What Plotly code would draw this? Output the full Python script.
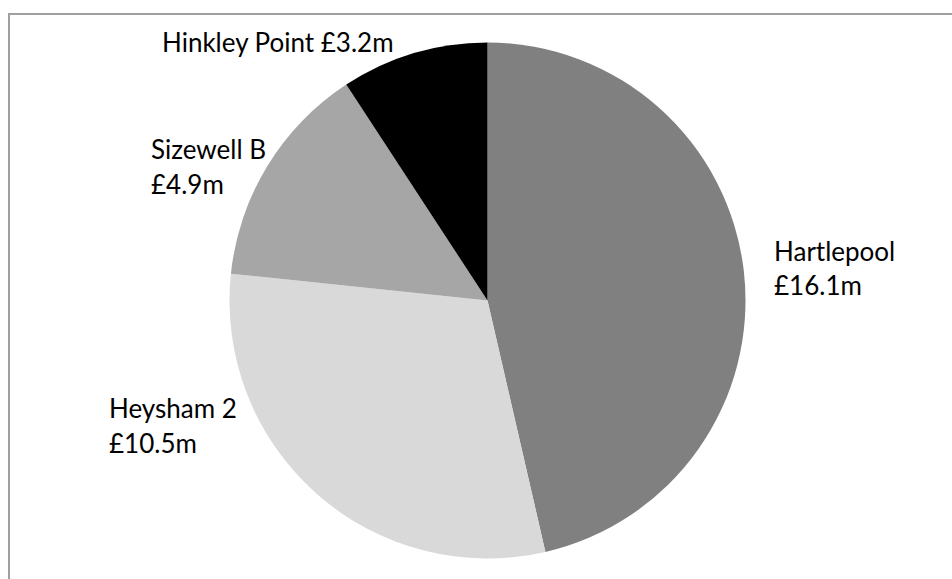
import plotly.graph_objects as go

# Plant names and their values (£ million), clockwise from 12 o'clock
plants = ["Hartlepool", "Heysham 2", "Sizewell B", "Hinkley Point"]
values_m = [16.1, 10.5, 4.9, 3.2]
colors = ["#808080", "#d9d9d9", "#a6a6a6", "#000000"]

W, H = 952, 579
FONT = "Lato"
FSIZE = 26


def px(x):
    return x / W


def py(y):
    return 1 - y / H


# pie geometry in pixels
cx, cy, r = 487.5, 300.5, 258

fig = go.Figure(
    go.Pie(
        labels=plants,
        values=values_m,
        sort=False,
        direction="clockwise",
        rotation=0,
        marker=dict(colors=colors, line=dict(width=0)),
        textinfo="none",
        hoverinfo="label+value",
        showlegend=False,
        domain=dict(x=[px(cx - r), px(cx + r)], y=[py(cy + r), py(cy - r)]),
    )
)


def money(v):
    return f"£{v}m"


# label layout: (left x, first baseline, second baseline or None -> single line)
label_pos = {
    "Hinkley Point": (160, 51, None),
    "Sizewell B": (149, 158, 193),
    "Heysham 2": (107, 417, 452),
    "Hartlepool": (772, 260, 294),
}

annotations = []
for name, v in zip(plants, values_m):
    x, b1, b2 = label_pos[name]
    lines = [(f"{name} {money(v)}", b1)] if b2 is None else [(name, b1), (money(v), b2)]
    for txt, base in lines:
        annotations.append(
            dict(
                text=txt,
                x=px(x),
                y=py(base - 0.36 * FSIZE),
                xref="paper",
                yref="paper",
                xanchor="left",
                yanchor="middle",
                showarrow=False,
                font=dict(family=FONT, size=FSIZE, color="#000000"),
            )
        )

# chart frame (continues past the right and bottom edges)
shapes = [
    dict(
        type="rect",
        xref="paper",
        yref="paper",
        x0=px(9),
        x1=px(W + 20),
        y0=py(14),
        y1=py(H + 20),
        line=dict(color="#a0a0a0", width=2),
        fillcolor="rgba(0,0,0,0)",
    )
]

fig.update_layout(
    width=W,
    height=H,
    margin=dict(l=0, r=0, t=0, b=0),
    paper_bgcolor="#ffffff",
    plot_bgcolor="#ffffff",
    annotations=annotations,
    shapes=shapes,
)

fig.write_html("out.html")
